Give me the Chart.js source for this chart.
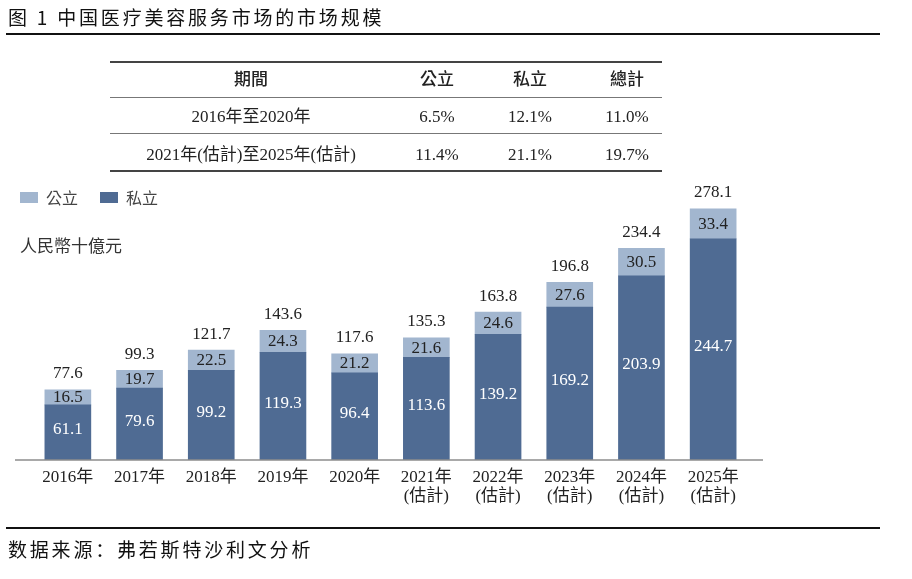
<!DOCTYPE html>
<html><head><meta charset="utf-8">
<script src="https://cdn.jsdelivr.net/npm/chart.js@4"></script>
<style>
html,body{margin:0;padding:0;background:#fff;}
#wrap{position:relative;width:912px;height:579px;overflow:hidden;background:#fff;}
canvas{position:absolute;left:0;top:0;}
.t{position:absolute;white-space:nowrap;transform:translate(-50%,-50%);font-family:'Liberation Serif','Noto Sans CJK TC',serif;font-size:17px;color:#222;line-height:1;}
.l{position:absolute;white-space:nowrap;transform:translateY(-50%);line-height:1;}
.hr{position:absolute;}
</style></head>
<body><div id="wrap">
<canvas id="c" width="912" height="579"></canvas>
<div class="l" style="left:8px;top:16px;font-family:'Noto Sans CJK SC';font-size:19px;letter-spacing:2.8px;color:#111;">图 1 中国医疗美容服务市场的市场规模</div>
<div class="hr" style="left:6px;top:33px;width:874px;height:2px;background:#111;"></div>
<div id="table"></div>
<div class="hr" style="left:20px;top:192px;width:18px;height:11px;background:#a2b6cf;"></div>
<div class="l" style="left:46px;top:197px;font-family:'Noto Sans CJK TC';font-size:16px;color:#444;">公立</div>
<div class="hr" style="left:100px;top:192px;width:18px;height:11px;background:#4f6b93;"></div>
<div class="l" style="left:126px;top:197px;font-family:'Noto Sans CJK TC';font-size:16px;color:#444;">私立</div>
<div class="l" style="left:20px;top:244px;font-family:'Noto Sans CJK TC';font-size:17px;color:#333;">人民幣十億元</div>
<div class="hr" style="left:6px;top:527px;width:874px;height:2px;background:#111;"></div>
<div class="l" style="left:8px;top:548px;font-family:'Noto Sans CJK SC';font-size:19px;letter-spacing:2.8px;color:#111;">数据来源：弗若斯特沙利文分析</div>
</div>
<script>
const categories = [['2016年'],['2017年'],['2018年'],['2019年'],['2020年'],['2021年','(估計)'],['2022年','(估計)'],['2023年','(估計)'],['2024年','(估計)'],['2025年','(估計)']];
const publicValues = [16.5,19.7,22.5,24.3,21.2,21.6,24.6,27.6,30.5,33.4];
const privateValues = [61.1,79.6,99.2,119.3,96.4,113.6,139.2,169.2,203.9,244.7];
const totalValues = [77.6,99.3,121.7,143.6,117.6,135.3,163.8,196.8,234.4,278.1];
const tableHeader = ['期間','公立','私立','總計'];
const tableRow1 = ['2016年至2020年','6.5%','12.1%','11.0%'];
const tableRow2 = ['2021年(估計)至2025年(估計)','11.4%','21.1%','19.7%'];

// table
(function(){
  const t=document.getElementById('table');
  const colX=[251,437,530,627];
  const rowY=[79,116,154];
  const lines=[{y:61,c:'#444',h:1.5},{y:97,c:'#777',h:1.2},{y:133,c:'#777',h:1.2},{y:170,c:'#444',h:1.5}];
  let html='';
  lines.forEach(l=>{html+=`<div class="hr" style="left:110px;top:${l.y}px;width:552px;height:${l.h}px;background:${l.c};"></div>`;});
  [tableHeader,tableRow1,tableRow2].forEach((row,ri)=>{
    row.forEach((txt,ci)=>{
      const w = ri===0 ? 'font-weight:500;' : '';
      html+=`<div class="t" style="left:${colX[ci]}px;top:${rowY[ri]}px;${w}">${txt}</div>`;
    });
  });
  t.innerHTML=html;
})();

const fmt=v=>v.toFixed(1);
const FONT="'Liberation Serif','Noto Sans CJK TC'";
const valuePlugin={
  id:'vals',
  afterDatasetsDraw(chart){
    const ctx=chart.ctx; ctx.save();
    const y0=chart.scales.y.getPixelForValue(0);
    ctx.strokeStyle='#8c8c8c'; ctx.lineWidth=1.5;
    ctx.beginPath(); ctx.moveTo(15,y0); ctx.lineTo(763,y0); ctx.stroke();
    ctx.font="17px "+FONT; ctx.textAlign='center'; ctx.textBaseline='middle';
    const m0=chart.getDatasetMeta(0), m1=chart.getDatasetMeta(1);
    m0.data.forEach((b,i)=>{ctx.fillStyle='#ffffff';ctx.fillText(fmt(privateValues[i]),b.x,(b.y+b.base)/2-3);});
    m1.data.forEach((b,i)=>{ctx.fillStyle='#222';ctx.fillText(fmt(publicValues[i]),b.x,(b.y+b.base)/2+0.5);ctx.fillText(fmt(totalValues[i]),b.x,b.y-16);});
    ctx.restore();
  }
};

new Chart(document.getElementById('c'),{
  type:'bar',
  data:{labels:categories,datasets:[
    {label:'私立',data:privateValues,backgroundColor:'#4f6b93',barThickness:46},
    {label:'公立',data:publicValues,backgroundColor:'#a2b6cf',barThickness:46}
  ]},
  options:{
    responsive:false,animation:false,devicePixelRatio:1,
    layout:{padding:{left:32,right:163,top:189,bottom:59}},
    plugins:{legend:{display:false},tooltip:{enabled:false}},
    scales:{
      x:{stacked:true,grid:{display:false,drawTicks:false},border:{display:false},
        ticks:{color:'#222',font:{family:FONT,size:17,lineHeight:1.12},padding:8,maxRotation:0,autoSkip:false},
        afterFit:s=>{s.height=60;}},
      y:{stacked:true,display:false,min:0,max:300}
    }
  },
  plugins:[valuePlugin]
});
</script>
</body></html>
